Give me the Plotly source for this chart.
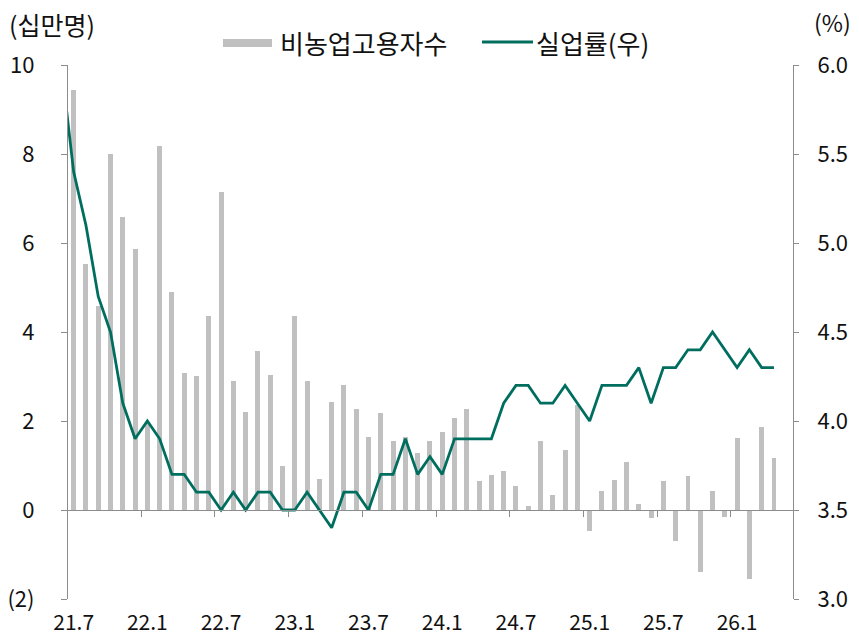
import numpy as np
import plotly.graph_objects as go

# ---- data ----
months = ['21.6', '21.7', '21.8', '21.9', '21.10', '21.11', '21.12',
          '22.1', '22.2', '22.3', '22.4', '22.5', '22.6', '22.7', '22.8', '22.9', '22.10', '22.11', '22.12',
          '23.1', '23.2', '23.3', '23.4', '23.5', '23.6', '23.7', '23.8', '23.9', '23.10', '23.11', '23.12',
          '24.1', '24.2', '24.3', '24.4', '24.5', '24.6', '24.7', '24.8', '24.9', '24.10', '24.11', '24.12',
          '25.1', '25.2', '25.3', '25.4', '25.5', '25.6', '25.7', '25.8', '25.9', '25.10', '25.11', '25.12',
          '26.1', '26.2', '26.3', '26.4']

payrolls = [None, 9.43, 5.53, 4.58, 8.01, 6.59, 5.87,
            1.95, 8.19, 4.91, 3.08, 3.02, 4.35, 7.15, 2.90, 2.21, 3.57, 3.04, 1.00,
            4.35, 2.90, 0.69, 2.42, 2.80, 2.26, 1.63, 2.18, 1.56, 1.65, 1.27, 1.55,
            1.76, 2.06, 2.28, 0.65, 0.78, 0.87, 0.53, 0.09, 1.55, 0.34, 1.34, 2.37,
            -0.48, 0.42, 0.68, 1.09, 0.14, -0.19, 0.65, -0.70, 0.76, -1.40, 0.42, -0.16,
            1.61, -1.55, 1.86, 1.16]

unemp = [6.0, 5.4, 5.1, 4.7, 4.5, 4.1, 3.9,
         4.0, 3.9, 3.7, 3.7, 3.6, 3.6, 3.5, 3.6, 3.5, 3.6, 3.6, 3.5,
         3.5, 3.6, 3.5, 3.4, 3.6, 3.6, 3.5, 3.7, 3.7, 3.9, 3.7, 3.8,
         3.7, 3.9, 3.9, 3.9, 3.9, 4.1, 4.2, 4.2, 4.1, 4.1, 4.2, 4.1,
         4.0, 4.2, 4.2, 4.2, 4.3, 4.1, 4.3, 4.3, 4.4, 4.4, 4.5, 4.4,
         4.3, 4.4, 4.3, 4.3]

tick_labels = ['21.7', '22.1', '22.7', '23.1', '23.7', '24.1', '24.7', '25.1', '25.7', '26.1']
left_ticks = [-2, 0, 2, 4, 6, 8, 10]
left_ticktext = ['(2)', '0', '2', '4', '6', '8', '10']
right_ticks = [3.0, 3.5, 4.0, 4.5, 5.0, 5.5, 6.0]

series_bar = '비농업고용자수'
series_line = '실업률(우)'

# ---- geometry / style ----
x = np.arange(len(months)) - 1
tickpos = [months.index(t) - 1 for t in tick_labels]
boundary = [p - 0.5 for p in tickpos[1:]]

BAR = '#c0c0c0'
LINE = '#006e5f'
AX = '#8c8c8c'
FONT = 'Noto Sans CJK KR'

W, H = 859, 639
L, R, T, B = 68, 66, 65, 40
pw, ph = W - L - R, H - T - B

def px(xp):
    return (xp - L) / pw

def py(yp):
    return (H - B - yp) / ph

fig = go.Figure()
fig.add_trace(go.Bar(x=x, y=payrolls, marker=dict(color=BAR, line=dict(width=0)),
                     width=0.4, showlegend=False, name=series_bar))
fig.add_trace(go.Scatter(x=x, y=unemp, mode='lines', yaxis='y2',
                         line=dict(color=LINE, width=2.8), showlegend=False, name=series_line))
fig.add_trace(go.Scatter(x=[None], y=[None], xaxis='x2', showlegend=False, hoverinfo='skip'))

xr = [-0.46, 58.55]
fig.update_layout(
    width=W, height=H,
    margin=dict(l=L, r=R, t=T, b=B),
    plot_bgcolor='white', paper_bgcolor='white',
    font=dict(family=FONT, size=21, color='#111111'),
    bargap=0,
    xaxis=dict(range=xr, tickvals=tickpos, ticktext=tick_labels, showline=False,
               ticks='', showgrid=False, zeroline=False, ticklabelstandoff=9,
               tickfont=dict(size=21), automargin=False),
    xaxis2=dict(range=xr, overlaying='x', anchor='free', position=2 / 12,
                showline=True, linecolor=AX, linewidth=1.2, ticks='outside', ticklen=6,
                tickcolor=AX, tickwidth=1.2, tickvals=boundary, showticklabels=False,
                showgrid=False, zeroline=False, automargin=False),
    yaxis=dict(range=[-2, 10], tickvals=left_ticks, ticktext=left_ticktext,
               showline=True, linecolor=AX, linewidth=1.2, ticks='outside', ticklen=6,
               tickcolor=AX, showgrid=False, zeroline=False, ticklabelstandoff=22,
               tickfont=dict(size=22), automargin=False),
    yaxis2=dict(range=[3, 6], overlaying='y', side='right', tickvals=right_ticks,
                tickformat='.1f', showline=True, linecolor=AX, linewidth=1.2,
                ticks='outside', ticklen=5, tickcolor=AX, showgrid=False, zeroline=False,
                ticklabelstandoff=14, tickfont=dict(size=22), automargin=False),
)

# axis unit titles
fig.add_annotation(text='(십만명)', xref='paper', yref='paper', x=px(52), y=py(24),
                   showarrow=False, xanchor='center', yanchor='middle', font=dict(size=25))
fig.add_annotation(text='(%)', xref='paper', yref='paper', x=px(832), y=py(22),
                   showarrow=False, xanchor='center', yanchor='middle', font=dict(size=23))

# custom legend
fig.add_shape(type='rect', xref='paper', yref='paper', x0=px(223), x1=px(272),
              y0=py(47), y1=py(39), fillcolor=BAR, line=dict(width=0))
fig.add_annotation(text=series_bar, xref='paper', yref='paper', x=px(278), y=py(43),
                   showarrow=False, xanchor='left', yanchor='middle', font=dict(size=26))
fig.add_shape(type='line', xref='paper', yref='paper', x0=px(482), x1=px(533),
              y0=py(42), y1=py(42), line=dict(color=LINE, width=2.8))
fig.add_annotation(text=series_line, xref='paper', yref='paper', x=px(534), y=py(43),
                   showarrow=False, xanchor='left', yanchor='middle', font=dict(size=26))

fig.write_html('out.html', config={'displayModeBar': False},
               post_script="document.body.style.margin='0';document.body.style.overflow='hidden';")
